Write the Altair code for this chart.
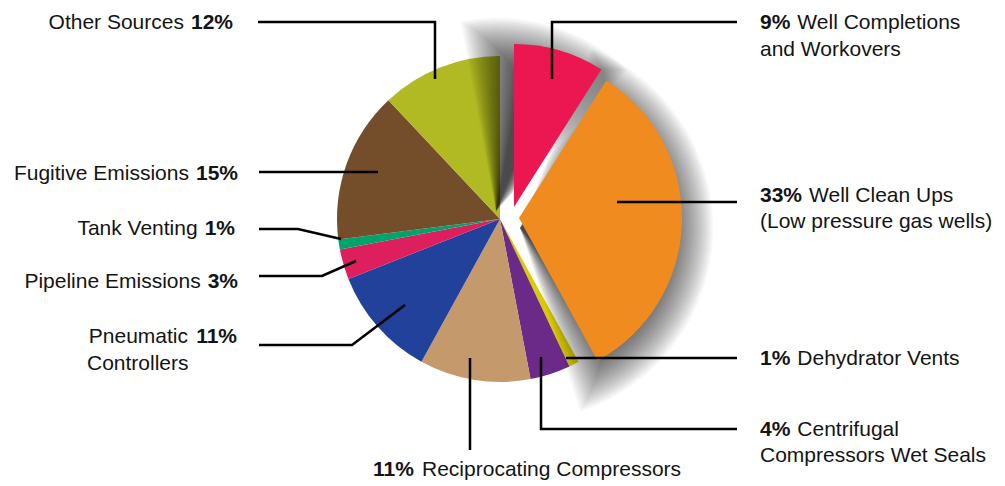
import math
import altair as alt
import pandas as pd

# ---------------- data ----------------
categories = [
    "Well Completions and Workovers",
    "Well Clean Ups (Low pressure gas wells)",
    "Dehydrator Vents",
    "Centrifugal Compressors Wet Seals",
    "Reciprocating Compressors",
    "Pneumatic Controllers",
    "Pipeline Emissions",
    "Tank Venting",
    "Fugitive Emissions",
    "Other Sources",
]
shares = [9, 33, 1, 4, 11, 11, 3, 1, 15, 12]
colors = ["#EC1651", "#F08B1F", "#D9CB00", "#6B2A87", "#C49A6C",
          "#22419A", "#DD1F5E", "#00A36C", "#744E2B", "#B1BA22"]
label_line1 = ["Well Completions", "Well Clean Ups", "Dehydrator Vents", "Centrifugal",
               "Reciprocating Compressors", "Pneumatic", "Pipeline Emissions",
               "Tank Venting", "Fugitive Emissions", "Other Sources"]
label_line2 = ["and Workovers", "(Low pressure gas wells)", "", "Compressors Wet Seals",
               "", "Controllers", "", "", "", ""]

# ---------------- layout / style (pixel positions of the reference) ----------------
FONT = "Liberation Sans, Arial, sans-serif"
FS = 21
GAP = 7
CX, CY, R = 500, 219, 163
explode = {categories[0]: (14, -12), categories[1]: (19, -1)}
# soft drop shadow under the exploded slices (offset per slice, blur, opacity per layer)
shadow_offset = {categories[0]: (-18, 4), categories[1]: (1, 10)}
SH_BLUR, SH_STEP, SH_OPACITY = 30, 2, 0.036
# label anchor: (side, x, baseline y, line2 x, line2 y)
label_pos = {
    categories[0]: ("R", 760, 29, 760, 56),
    categories[1]: ("R", 760, 202, 760, 228),
    categories[2]: ("R", 760, 365, None, None),
    categories[3]: ("R", 760, 436, 760, 462),
    categories[4]: ("R", 373, 476, None, None),
    categories[5]: ("L", 237, 343, 87, 370),
    categories[6]: ("L", 238, 288, None, None),
    categories[7]: ("L", 235, 235, None, None),
    categories[8]: ("L", 238, 180, None, None),
    categories[9]: ("L", 233, 29, None, None),
}
leaders = {
    categories[0]: [(552, 79), (552, 22), (737, 22)],
    categories[1]: [(617, 202), (737, 202)],
    categories[2]: [(566, 358), (737, 358)],
    categories[3]: [(541, 357), (541, 429), (737, 429)],
    categories[4]: [(470, 358), (470, 450)],
    categories[5]: [(405, 305), (352, 345), (259, 345)],
    categories[6]: [(356, 261), (322, 276), (259, 276)],
    categories[7]: [(341, 239), (298, 229), (259, 229)],
    categories[8]: [(378, 172), (259, 172)],
    categories[9]: [(435, 79), (435, 22), (258, 22)],
}


def bold_width(s):
    return sum(0.556 if c.isdigit() else 0.889 for c in s) * FS


# ---------------- tables ----------------
rows = []
acc = 0
for cat, v in zip(categories, shares):
    dx, dy = explode.get(cat, (0, 0))
    rows.append(dict(cat=cat, share=v, start=acc, end=acc + v,
                     cx=CX + dx, cy=CY + dy, exploded=cat in explode))
    acc += v
slices = pd.DataFrame(rows)

shadow_rows = []
for s in range(-SH_BLUR, SH_BLUR + 1, SH_STEP):
    d = s / (2 * math.pi * R) * 100
    for r in rows:
        if r["exploded"]:
            ox, oy = shadow_offset[r["cat"]]
            shadow_rows.append(dict(start=r["start"] - d, end=r["end"] + d,
                                    cx=r["cx"] + ox, cy=r["cy"] + oy, rad=R + s))
shadow = pd.DataFrame(shadow_rows)

text_rows = []
for cat, v, l1, l2 in zip(categories, shares, label_line1, label_line2):
    side, x, y, x2, y2 = label_pos[cat]
    pct = f"{v}%"
    w = bold_width(pct)
    if side == "R":
        text_rows.append(dict(text=pct, x=x, y=y, bold=True, align="left"))
        text_rows.append(dict(text=l1, x=x + w + GAP, y=y, bold=False, align="left"))
    else:
        text_rows.append(dict(text=pct, x=x, y=y, bold=True, align="right"))
        text_rows.append(dict(text=l1, x=x - w - GAP, y=y, bold=False, align="right"))
    if l2:
        text_rows.append(dict(text=l2, x=x2, y=y2, bold=False, align="left"))
texts = pd.DataFrame(text_rows)

line_rows = []
for cat, pts in leaders.items():
    for i, (px, py) in enumerate(pts):
        line_rows.append(dict(cat=cat, order=i, x=px, y=py))
lines = pd.DataFrame(line_rows)

# ---------------- chart ----------------
W, H = 989, 477
xs = alt.Scale(domain=[8, 8 + W], nice=False, zero=False)
ys = alt.Scale(domain=[8, 8 + H], nice=False, zero=False, reverse=True)
ts = alt.Scale(domain=[0, 100], range=[0, 2 * math.pi])
cs = alt.Scale(domain=categories, range=colors)

X = alt.X("cx:Q", scale=xs, axis=None)
Y = alt.Y("cy:Q", scale=ys, axis=None)

base = alt.Chart(slices).encode(
    theta=alt.Theta("start:Q", scale=ts),
    theta2="end:Q",
    x=X, y=Y,
    color=alt.Color("cat:N", scale=cs, legend=None),
)
pie_main = base.transform_filter("!datum.exploded").mark_arc(radius=R)
pie_expl = base.transform_filter("datum.exploded").mark_arc(radius=R)

shadow_layer = alt.Chart(shadow).mark_arc(color="black", opacity=SH_OPACITY).encode(
    theta=alt.Theta("start:Q", scale=ts),
    theta2="end:Q",
    radius=alt.Radius("rad:Q", scale=None),
    x=X, y=Y,
)

leader_layer = alt.Chart(lines).mark_line(color="black", strokeWidth=2.5,
                                          strokeJoin="miter", strokeCap="butt").encode(
    x=alt.X("x:Q", scale=xs, axis=None),
    y=alt.Y("y:Q", scale=ys, axis=None),
    detail="cat:N",
    order="order:Q",
)


def text_layer(bold, align):
    return alt.Chart(texts).transform_filter(
        f"datum.bold == {str(bold).lower()} && datum.align == '{align}'"
    ).mark_text(font=FONT, fontSize=FS, fontWeight="bold" if bold else "normal",
                align=align, baseline="alphabetic", color="#141414").encode(
        x=alt.X("x:Q", scale=xs, axis=None),
        y=alt.Y("y:Q", scale=ys, axis=None),
        text="text:N",
    )


chart = alt.layer(
    pie_main, shadow_layer, pie_expl, leader_layer,
    text_layer(True, "left"), text_layer(True, "right"),
    text_layer(False, "left"), text_layer(False, "right"),
).properties(width=W, height=H, padding=0, autosize=alt.AutoSizeParams(type="none")
).configure_view(stroke=None)

chart.save("out.html", embed_options={"renderer": "svg", "actions": False})
